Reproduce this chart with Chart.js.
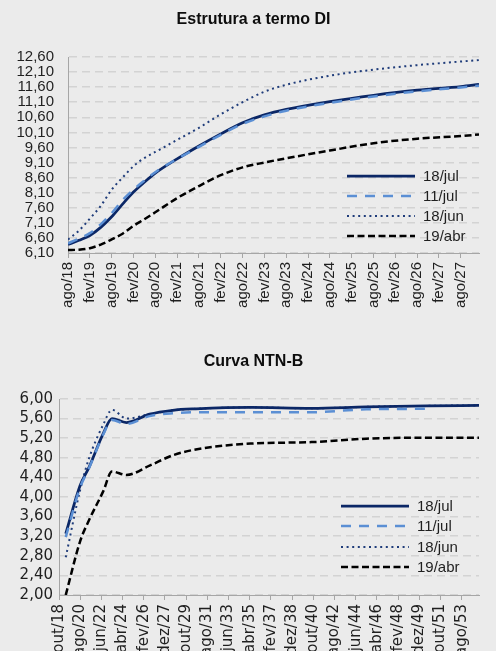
<!DOCTYPE html>
<html><head><meta charset="utf-8">
<script src="https://cdn.jsdelivr.net/npm/chart.js@4.4.0/dist/chart.umd.min.js"></script>
<style>
html,body{margin:0;padding:0;background:#ebebeb;width:496px;height:651px;overflow:hidden;}
#c1{position:absolute;left:0;top:0;}
#c2{position:absolute;left:0;top:325px;}
</style></head><body>
<canvas id="c1" width="496" height="325"></canvas>
<canvas id="c2" width="496" height="326"></canvas>
<script>
// ---------- DATA ----------
const seriesLabels = ['18/jul', '11/jul', '18/jun', '19/abr'];

// Chart 1: months after ago/18
const diMonths = [0, 3, 6, 9, 12, 15, 18, 21, 24, 30, 36, 42, 48, 54, 60, 72, 84, 96, 108, 113];
const di18jul = [6.38, 6.52, 6.68, 6.95, 7.30, 7.72, 8.12, 8.45, 8.75, 9.22, 9.65, 10.05, 10.42, 10.68, 10.86, 11.12, 11.33, 11.50, 11.62, 11.69];
const di11jul = [6.42, 6.58, 6.76, 7.05, 7.42, 7.85, 8.20, 8.50, 8.78, 9.22, 9.62, 10.02, 10.38, 10.63, 10.82, 11.08, 11.29, 11.46, 11.59, 11.65];
const di18jun = [6.55, 6.84, 7.24, 7.66, 8.20, 8.60, 8.98, 9.25, 9.45, 9.85, 10.25, 10.70, 11.10, 11.45, 11.68, 11.98, 12.18, 12.33, 12.45, 12.50];
const di19abr = [6.20, 6.21, 6.26, 6.38, 6.55, 6.74, 7.00, 7.22, 7.45, 7.92, 8.32, 8.68, 8.94, 9.10, 9.24, 9.50, 9.74, 9.89, 9.98, 10.03];
const diTickMonths = [0, 6, 12, 18, 24, 30, 36, 42, 48, 54, 60, 66, 72, 78, 84, 90, 96, 102, 108];
const diTickLabels = ['ago/18','fev/19','ago/19','fev/20','ago/20','fev/21','ago/21','fev/22','ago/22','fev/23','ago/23','fev/24','ago/24','fev/25','ago/25','fev/26','ago/26','fev/27','ago/27'];
const diYTicks = [6.10, 6.60, 7.10, 7.60, 8.10, 8.60, 9.10, 9.60, 10.10, 10.60, 11.10, 11.60, 12.10, 12.60];

// Chart 2: months after out/18
const ntnMonths = [7, 22, 31, 46, 55, 70, 94, 118, 142, 199, 262, 319, 382, 436];
const ntn18jul = [3.25, 4.24, 4.60, 5.30, 5.60, 5.52, 5.69, 5.77, 5.80, 5.83, 5.81, 5.84, 5.86, 5.87];
const ntn11jul = [3.18, 4.20, 4.58, 5.28, 5.57, 5.49, 5.65, 5.71, 5.73, 5.73, 5.73, 5.79, 5.80];
const ntn18jun = [2.77, 4.15, 4.78, 5.48, 5.78, 5.60, 5.69, 5.77, 5.80, 5.83, 5.81, 5.84, 5.86, 5.87];
const ntn19abr = [2.00, 3.10, 3.52, 4.12, 4.52, 4.45, 4.64, 4.85, 4.97, 5.09, 5.12, 5.19, 5.21, 5.21];
const ntnTickMonths = [0, 22, 44, 66, 88, 110, 132, 154, 176, 198, 220, 242, 264, 286, 308, 330, 352, 374, 396, 418];
const ntnTickLabels = ['out/18','ago/20','jun/22','abr/24','fev/26','dez/27','out/29','ago/31','jun/33','abr/35','fev/37','dez/38','out/40','ago/42','jun/44','abr/46','fev/48','dez/49','out/51','ago/53'];
const ntnYTicks = [2.00, 2.40, 2.80, 3.20, 3.60, 4.00, 4.40, 4.80, 5.20, 5.60, 6.00];

// ---------- STYLE ----------
const styles = [
  {borderColor:'#0b2766', borderWidth:2.75, borderDash:[], order:1},
  {borderColor:'#5b8fd4', borderWidth:2.5, borderDash:[10,8], order:0},
  {borderColor:'#1f3c7a', borderWidth:2, borderDash:[2,3.6], order:2},
  {borderColor:'#000000', borderWidth:2.5, borderDash:[7,3.5], order:3}
];
const AX = '#a6a6a6';
const TXT = '#1f1f1f';
const FONT = "'Liberation Sans', Arial, sans-serif";
Chart.defaults.font.family = FONT;
Chart.defaults.font.size = 15;
Chart.defaults.color = TXT;

function makeSets(xs, arrs){
  return arrs.map((arr, k) => Object.assign({
    label: seriesLabels[k],
    data: arr.map((v, i) => ({x: xs[i], y: v})),
    pointRadius: 0, fill: false, cubicInterpolationMode: 'monotone',
    borderCapStyle: 'butt'
  }, styles[k]));
}
const fmt = v => Number(v).toFixed(2).replace('.', ',');

function textPlugin(title, tX, tY, x1, x2, tx, ys){
  return {
    id: 'inlineText',
    afterDraw(chart){
      const ctx = chart.ctx;
      ctx.save();
      ctx.fillStyle = '#0d0d0d';
      ctx.font = 'bold 16px ' + FONT;
      ctx.textAlign = 'center';
      ctx.textBaseline = 'middle';
      ctx.fillText(title, tX, tY);
      ctx.restore();
      chart.data.datasets.forEach((ds, i) => {
        ctx.save();
        ctx.strokeStyle = ds.borderColor;
        ctx.lineWidth = ds.borderWidth;
        ctx.setLineDash(ds.borderDash || []);
        ctx.beginPath();
        ctx.moveTo(x1, ys[i]); ctx.lineTo(x2, ys[i]);
        ctx.stroke();
        ctx.restore();
        ctx.save();
        ctx.fillStyle = TXT;
        ctx.font = '15px ' + FONT;
        ctx.textBaseline = 'middle';
        ctx.textAlign = 'left';
        ctx.fillText(ds.label, tx, ys[i] + 0.5);
        ctx.restore();
      });
    }
  };
}

function makeChart(id, cfg){
  return new Chart(document.getElementById(id), {
    type: 'line',
    data: {datasets: makeSets(cfg.xs, cfg.series)},
    options: {
      responsive: false, animation: false,
      layout: {padding: {left: 0, right: 17, top: cfg.top, bottom: 0}},
      plugins: {legend: {display: false}, tooltip: {enabled: false}, title: {display: false}},
      scales: {
        x: {
          type: 'linear', min: cfg.xmin, max: cfg.xmax,
          afterBuildTicks: s => { s.ticks = cfg.tickMonths.map(v => ({value: v})); },
          afterFit: s => { s.height = cfg.xHeight; },
          ticks: {autoSkip: false, minRotation: 90, maxRotation: 90, padding: 4,
                  font: cfg.tickFont, callback: (v, i) => cfg.tickLabels[i]},
          grid: {drawOnChartArea: false, drawTicks: true, tickLength: 5, color: AX, lineWidth: 1},
          border: {color: AX, width: 1}
        },
        y: {
          min: cfg.ymin, max: cfg.ymax,
          afterBuildTicks: s => { s.ticks = cfg.yTicks.map(v => ({value: v})); },
          afterFit: s => { s.width = cfg.yWidth; },
          ticks: {autoSkip: false, padding: cfg.yPad, font: cfg.tickFont, callback: v => fmt(v)},
          grid: {color: '#d3d3d3', lineWidth: 1.5, drawTicks: false},
          border: {color: AX, width: 1, dash: [8, 5]}
        }
      }
    },
    plugins: [textPlugin(cfg.title, 253.5, cfg.titleY, cfg.lg[0], cfg.lg[1], cfg.lg[2], cfg.lg[3])]
  });
}

makeChart('c1', {
  title: 'Estrutura a termo DI', titleY: 20, top: 57,
  xs: diMonths, series: [di18jul, di11jul, di18jun, di19abr],
  xmin: 0, xmax: 113, tickMonths: diTickMonths, tickLabels: diTickLabels,
  ymin: 6.1, ymax: 12.6, yTicks: diYTicks,
  xHeight: 72, yWidth: 68, yPad: 14,
  tickFont: {family: FONT, size: 15},
  lg: [347, 415, 423, [176, 196, 216, 236]]
});

makeChart('c2', {
  title: 'Curva NTN-B', titleY: 37, top: 74,
  xs: ntnMonths, series: [ntn18jul, ntn11jul, ntn18jun, ntn19abr],
  xmin: 0, xmax: 436, tickMonths: ntnTickMonths, tickLabels: ntnTickLabels,
  ymin: 2, ymax: 6, yTicks: ntnYTicks,
  xHeight: 56, yWidth: 59, yPad: 6,
  tickFont: {family: "'DejaVu Sans', Verdana, sans-serif", size: 15},
  lg: [341, 409, 417, [181, 201, 222, 242]]
});
</script>
</body></html>
